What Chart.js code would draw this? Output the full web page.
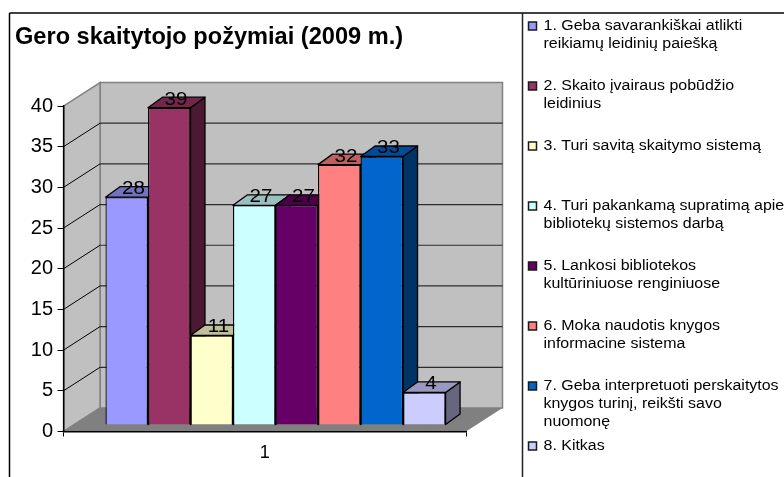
<!DOCTYPE html>
<html><head><meta charset="utf-8">
<style>html,body{margin:0;padding:0;background:#fff}#w{position:relative;width:784px;height:477px}canvas{display:block}</style>
<script src="https://cdn.jsdelivr.net/npm/chart.js@4"></script>
</head><body><div id="w"><canvas id="c" width="784" height="477"></canvas></div>
<script>
const titleText = "Gero skaitytojo požymiai (2009 m.)";
const categories = ["1"];
const seriesNames = [
  "1. Geba savarankiškai atlikti reikiamų leidinių paiešką",
  "2. Skaito įvairaus pobūdžio leidinius",
  "3. Turi savitą skaitymo sistemą",
  "4. Turi pakankamą supratimą apie bibliotekų sistemos darbą",
  "5. Lankosi bibliotekos kultūriniuose renginiuose",
  "6. Moka naudotis knygos informacine sistema",
  "7. Geba interpretuoti perskaitytos knygos turinį, reikšti savo nuomonę",
  "8. Kitkas"
];
const legendLines = [
  ["1. Geba savarankiškai atlikti","reikiamų leidinių paiešką"],
  ["2. Skaito įvairaus pobūdžio","leidinius"],
  ["3. Turi savitą skaitymo sistemą"],
  ["4. Turi pakankamą supratimą apie","bibliotekų sistemos darbą"],
  ["5. Lankosi bibliotekos","kultūriniuose renginiuose"],
  ["6. Moka naudotis knygos","informacine sistema"],
  ["7. Geba interpretuoti perskaitytos","knygos turinį, reikšti savo","nuomonę"],
  ["8. Kitkas"]
];
const seriesValues = [28, 39, 11, 27, 27, 32, 33, 4];
const seriesColors = ["#9999FF","#993366","#FFFFCC","#CCFFFF","#660066","#FF8080","#0066CC","#CCCCFF"];

const depth = {wallX:36.5, wallY:-23.5, barX:10.75, barY:-6.5, faceX:14.5, faceY:-10.5};
const FONT = '"Liberation Sans", Arial, sans-serif';

function shade(hex,f){
  const n=parseInt(hex.slice(1),16);
  return `rgb(${((n>>16)&255)*f|0},${((n>>8)&255)*f|0},${(n&255)*f|0})`;
}
function poly(ctx,pts,fill,stroke,lw){
  ctx.beginPath();
  pts.forEach((p,i)=>i?ctx.lineTo(p[0],p[1]):ctx.moveTo(p[0],p[1]));
  ctx.closePath();
  if(fill){ctx.fillStyle=fill;ctx.fill();}
  if(stroke){ctx.strokeStyle=stroke;ctx.lineWidth=lw||1;ctx.stroke();}
}
function line(ctx,x0,y0,x1,y1,c,w){
  ctx.beginPath();ctx.moveTo(x0,y0);ctx.lineTo(x1,y1);ctx.strokeStyle=c;ctx.lineWidth=w;ctx.stroke();
}
function stretchedText(ctx,txt,x,y,font,sx,align){
  ctx.save();ctx.translate(x,y);ctx.scale(sx,1);
  ctx.font=font;ctx.fillStyle="#000";ctx.textAlign=align||"left";ctx.textBaseline="middle";
  ctx.fillText(txt,0,0);ctx.restore();
}

const scene3d = {
  id:"scene3d",
  beforeDraw(chart){
    const {ctx,chartArea:a,scales:{y}}=chart;
    const dx=depth.wallX,dy=depth.wallY,b=a.bottom,t=y.getPixelForValue(40);
    ctx.save();
    ctx.fillStyle="#fff";ctx.fillRect(0,0,chart.width,chart.height);
    line(ctx,9.5,13,784,13,"#000",1.5);
    line(ctx,9.5,13,9.5,477,"#000",1.5);
    line(ctx,522.5,13,522.5,477,"#222",1.5);
    poly(ctx,[[a.left+dx,t+dy],[a.right+dx,t+dy],[a.right+dx,b+dy],[a.left+dx,b+dy]],"#C0C0C0","#808080",1.5);
    poly(ctx,[[a.left,t],[a.left+dx,t+dy],[a.left+dx,b+dy],[a.left,b]],"#C0C0C0","#808080",1.5);
    poly(ctx,[[a.left,b],[a.right,b],[a.right+dx,b+dy],[a.left+dx,b+dy]],"#808080");
    y.ticks.forEach(tk=>{
      if(tk.value<=0||tk.value>=40)return;
      const p=y.getPixelForValue(tk.value);
      line(ctx,a.left+dx,p+dy,a.right+dx,p+dy,"#2c2c2c",1.2);
      line(ctx,a.left,p,a.left+dx,p+dy,"#000",1);
    });
    ctx.restore();
  },
  beforeDatasetsDraw(chart){
    const {ctx}=chart,f=depth;
    ctx.save();
    ctx.translate(f.barX,f.barY);
    ctx.lineJoin="round";
    seriesValues.forEach((v,i)=>{
      const el=chart.getDatasetMeta(i).data[0];
      const l=el.x-el.width/2,r=el.x+el.width/2,tp=el.y,bs=el.base,c=seriesColors[i];
      poly(ctx,[[r,tp],[r+f.faceX,tp+f.faceY],[r+f.faceX,bs+f.faceY],[r,bs]],shade(c,.5),"#000",1.3);
      poly(ctx,[[l,tp],[l+f.faceX,tp+f.faceY],[r+f.faceX,tp+f.faceY],[r,tp]],shade(c,.75),"#000",1.3);
    });
  },
  afterDatasetsDraw(chart){
    const {ctx}=chart,f=depth;
    seriesValues.forEach((v,i)=>{
      const el=chart.getDatasetMeta(i).data[0];
      stretchedText(ctx,String(v),el.x+f.faceX/2-0.5,el.y+f.faceY/2-3,"19px "+FONT,1.08,"center");
    });
    ctx.restore();
    legendLines.forEach((ls,i)=>{
      const yc=26+60*i;
      ctx.fillStyle=seriesColors[i];ctx.strokeStyle="#1a1a1a";ctx.lineWidth=1.5;
      ctx.fillRect(528.5,yc-4,8,8);ctx.strokeRect(528.5,yc-4,8,8);
      ls.forEach((t,j)=>stretchedText(ctx,t,543.5,yc+0.5+j*18,"14px "+FONT,1.14));
    });
  }
};

new Chart(document.getElementById("c"),{
  type:"bar",
  data:{labels:categories,datasets:seriesValues.map((v,i)=>({
    label:seriesNames[i],data:[v],backgroundColor:seriesColors[i],borderColor:"#000",borderWidth:1.3,
    categoryPercentage:0.845,barPercentage:1,clip:false
  }))},
  options:{
    responsive:false,animation:false,
    layout:{padding:{left:15,right:318,top:23,bottom:0}},
    plugins:{
      legend:{display:false},tooltip:{enabled:false},
      title:{display:true,text:titleText,align:"start",color:"#000",
        font:{family:FONT,size:23.6,weight:"bold",lineHeight:1.2},padding:{top:0,bottom:54.7}}
    },
    scales:{
      x:{grid:{drawOnChartArea:false,color:"#000",tickLength:5,offset:true},border:{color:"#000",width:1.5},
        ticks:{color:"#000",font:{family:FONT,size:18},padding:6},
        afterFit(s){s.height=45.5;}},
      y:{min:0,max:40,grid:{drawOnChartArea:false,color:"#000",tickLength:6},border:{color:"#000",width:1.5},
        ticks:{stepSize:5,color:"#000",font:{family:FONT,size:20},padding:4.5},
        afterFit(s){s.width=48.5;}}
    }
  },
  plugins:[scene3d]
});
</script></body></html>
